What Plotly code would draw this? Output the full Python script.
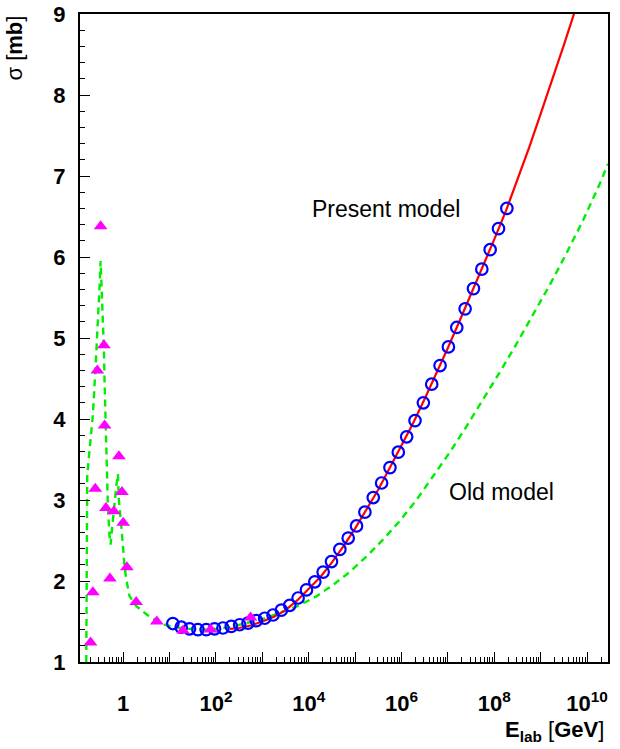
import plotly.graph_objects as go

# ---------------- data ----------------
# magenta triangles: low-energy data
tri_E = [0.198, 0.222, 0.25, 0.277, 0.326, 0.384, 0.397, 0.424, 0.517, 0.63,
         0.81, 0.94, 1.0, 1.2, 1.9, 5.3, 19.4, 76.5, 557]
tri_sig = [1.24, 1.86, 3.14, 4.60, 6.38, 4.91, 3.92, 2.90, 2.03, 2.86,
           3.54, 3.10, 2.72, 2.17, 1.74, 1.50, 1.39, 1.40, 1.55]

# blue open circles
circ_E = [11.75, 17.78, 26.92, 40.74, 61.66, 93.33, 141.3, 213.8, 323.6, 489.8,
          741.3, 1122, 1698, 2570, 3890, 5888, 8913, 13490, 20420, 30900,
          46770, 70790, 107150, 162180, 245470, 371540, 562340, 851140, 1.288e6, 1.950e6,
          2.951e6, 4.467e6, 6.761e6, 1.023e7, 1.549e7, 2.344e7, 3.548e7, 5.370e7, 8.128e7, 1.230e8,
          1.862e8]
circ_sig = [1.475, 1.43, 1.41, 1.40, 1.40, 1.41, 1.42, 1.44, 1.46, 1.48,
            1.51, 1.54, 1.58, 1.64, 1.70, 1.79, 1.89, 1.99, 2.11, 2.24,
            2.39, 2.53, 2.68, 2.85, 3.03, 3.21, 3.40, 3.59, 3.78, 3.98,
            4.20, 4.43, 4.66, 4.89, 5.13, 5.36, 5.61, 5.85, 6.09, 6.35,
            6.60]

# red solid line: present model
red_E = [200, 316, 562, 1.0e3, 1.78e3, 3.16e3, 5.62e3, 1.0e4, 1.78e4, 3.16e4,
         5.62e4, 1.0e5, 1.78e5, 3.16e5, 5.62e5, 1.0e6, 1.78e6, 3.16e6, 5.62e6, 1.0e7,
         1.78e7, 3.16e7, 5.62e7, 1.0e8, 1.78e8, 3.16e8, 5.62e8, 1.0e9, 1.78e9, 3.16e9,
         5.62e9]
red_sig = [1.41, 1.42, 1.45, 1.50, 1.56, 1.64, 1.76, 1.90, 2.05, 2.23,
           2.43, 2.65, 2.89, 3.13, 3.40, 3.68, 3.95, 4.25, 4.56, 4.88,
           5.21, 5.54, 5.88, 6.22, 6.57, 6.95, 7.35, 7.77, 8.19, 8.62,
           9.06]

# green dashed line: old model
grn_E = [0.160, 0.1615, 0.163, 0.168, 0.180, 0.189, 0.205, 0.222, 0.254, 0.285,
         0.310, 0.326, 0.3475, 0.365, 0.384, 0.397, 0.418, 0.446, 0.468, 0.509,
         0.535, 0.576, 0.631, 0.710, 0.769, 0.807, 0.910, 0.985, 1.072, 1.166,
         1.373, 1.916, 3.15, 5.6, 7.8, 12.6, 25, 50, 100, 200,
         400, 1000, 2500, 6300, 1.445e4, 3.31e4, 7.59e4, 1.738e5, 3.98e5, 9.12e5,
         2.089e6, 4.677e6, 1.072e7, 2.455e7, 5.623e7, 1.288e8, 2.951e8, 6.761e8, 1.549e9, 3.548e9,
         8.128e9, 1.862e10, 2.818e10]
grn_sig = [1.0, 2.2, 3.0, 3.3, 3.5, 3.62, 3.85, 4.05, 4.65, 5.15,
           5.64, 5.95, 5.6, 5.27, 4.86, 4.45, 3.91, 3.34, 2.92, 2.55,
           2.45, 2.65, 2.92, 3.17, 3.32, 3.0, 2.68, 2.39, 2.18, 2.02,
           1.81, 1.69, 1.59, 1.50, 1.46, 1.43, 1.41, 1.40, 1.41, 1.43,
           1.47, 1.53, 1.61, 1.70, 1.81, 1.95, 2.11, 2.30, 2.51, 2.74,
           3.00, 3.28, 3.58, 3.90, 4.23, 4.57, 4.92, 5.28, 5.65, 6.04,
           6.45, 6.90, 7.15]

# axis ticks
x_tick_vals = [1, 1e2, 1e4, 1e6, 1e8, 1e10]
x_tick_text = ["1", "10<sup>2</sup>", "10<sup>4</sup>", "10<sup>6</sup>",
               "10<sup>8</sup>", "10<sup>10</sup>"]
x_odd_decades = [0.1, 10, 1e3, 1e5, 1e7, 1e9]
x_minor_vals = [m * 10.0 ** k for k in range(-1, 11) for m in range(2, 10)]
y_tick_vals = [1, 2, 3, 4, 5, 6, 7, 8, 9]

FONT = "Liberation Sans, Arial, Helvetica, sans-serif"

fig = go.Figure()
fig.add_trace(go.Scatter(x=grn_E, y=grn_sig, mode="lines",
                         line=dict(color="#00ee00", width=2.4, dash="7px,5px")))
fig.add_trace(go.Scatter(x=red_E, y=red_sig, mode="lines",
                         line=dict(color="#ff0000", width=2.2)))
fig.add_trace(go.Scatter(x=circ_E, y=circ_sig, mode="markers",
                         marker=dict(symbol="circle-open", size=11.5, color="#0000ff",
                                     line=dict(width=2.2, color="#0000ff"))))
fig.add_trace(go.Scatter(x=tri_E, y=tri_sig, mode="markers",
                         marker=dict(symbol="triangle-up", size=12, color="#ff00ff",
                                     line=dict(width=0))))

fig.update_xaxes(type="log", range=[-0.931, 10.45], automargin=False,
                 tickmode="array", tickvals=x_tick_vals, ticktext=x_tick_text,
                 ticks="inside", ticklen=10, tickwidth=1.2, tickcolor="black",
                 minor=dict(tickmode="array", tickvals=x_minor_vals, ticks="inside",
                            ticklen=5, tickwidth=1, tickcolor="black", showgrid=False),
                 showline=True, linecolor="black", linewidth=2, mirror=True,
                 showgrid=False, zeroline=False,
                 tickfont=dict(family=FONT, size=22, color="black", weight="bold"),
                 ticklabelstandoff=21)
# unlabeled decade ticks (odd powers of ten) drawn by a second, overlaying axis
fig.update_layout(xaxis2=dict(type="log", range=[-0.931, 10.45], overlaying="x",
                              side="bottom", anchor="y", automargin=False,
                              tickmode="array", tickvals=x_odd_decades,
                              showticklabels=False, ticks="inside", ticklen=10,
                              tickwidth=1.2, tickcolor="black", showline=False,
                              showgrid=False, zeroline=False))
fig.add_trace(go.Scatter(x=[], y=[], xaxis="x2", yaxis="y", showlegend=False))

fig.update_yaxes(range=[1, 9], tickmode="array", tickvals=y_tick_vals, automargin=False,
                 ticks="inside", ticklen=10, tickwidth=1.2, tickcolor="black",
                 minor=dict(dtick=0.2, ticks="inside", ticklen=5, tickwidth=1,
                            tickcolor="black", showgrid=False),
                 showline=True, linecolor="black", linewidth=2, mirror=True,
                 showgrid=False, zeroline=False,
                 tickfont=dict(family=FONT, size=22, color="black", weight="bold"),
                 ticklabelstandoff=8)

fig.add_annotation(text="Present model", x=4.017, y=6.59, xref="x", yref="y",
                   xanchor="left", yanchor="middle", showarrow=False,
                   font=dict(family=FONT, size=23, color="black"))
fig.add_annotation(text="Old model", x=6.99, y=3.10, xref="x", yref="y",
                   xanchor="left", yanchor="middle", showarrow=False,
                   font=dict(family=FONT, size=23, color="black"))
fig.add_annotation(text="σ [<b>mb</b>]", x=-0.125, y=1.0, xref="paper", yref="paper",
                   xanchor="center", yanchor="top", textangle=-90, showarrow=False,
                   font=dict(family=FONT, size=22, color="black"))
fig.add_annotation(text="<b>E</b><sub><b>lab</b></sub> [<b>GeV</b>]", x=0.997, y=-0.106,
                   xref="paper", yref="paper", xanchor="right", yanchor="middle",
                   showarrow=False, font=dict(family=FONT, size=22, color="black"))

fig.update_layout(width=620, height=749, showlegend=False,
                  paper_bgcolor="white", plot_bgcolor="white",
                  margin=dict(l=80, r=12, t=14, b=87, autoexpand=False))

fig.write_html("out.html", config={"displayModeBar": False},
               post_script="document.body.style.margin='0';document.body.style.overflow='hidden';")
